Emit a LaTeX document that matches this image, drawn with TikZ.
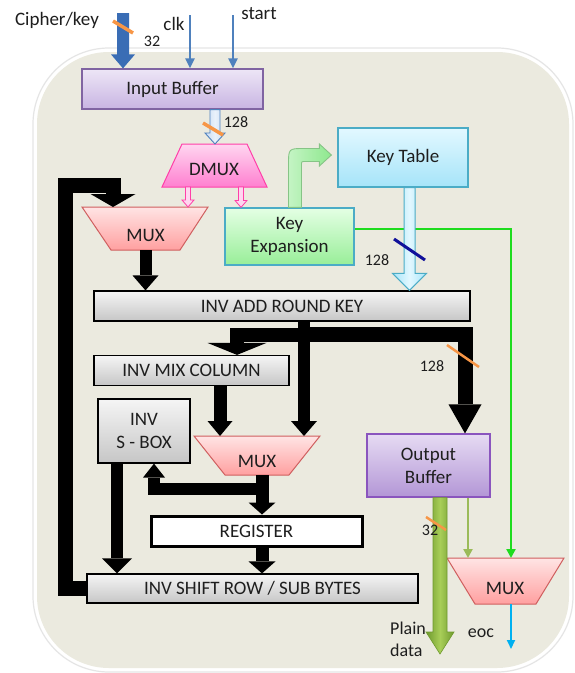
\documentclass[tikz,border=0pt]{standalone}
\usepackage{fontspec}
\setmainfont{Carlito}
\usetikzlibrary{arrows.meta,calc}
\definecolor{bgc}{HTML}{EBEADF}
\definecolor{txt}{HTML}{1E1E1E}
\definecolor{ibtop}{HTML}{EDE6F6}
\definecolor{ibbot}{HTML}{C8B4E2}
\definecolor{ibdraw}{HTML}{8064A2}
\definecolor{obtop}{HTML}{E6DBF3}
\definecolor{obbot}{HTML}{B396D6}
\definecolor{obdraw}{HTML}{8A55BE}
\definecolor{dmtop}{HTML}{FFD6F0}
\definecolor{dmbot}{HTML}{FF7FD0}
\definecolor{dmdraw}{HTML}{FF3FA8}
\definecolor{mxtop}{HTML}{FFE4E4}
\definecolor{mxbot}{HTML}{FFA0A0}
\definecolor{mxdraw}{HTML}{CF5F5F}
\definecolor{ketop}{HTML}{E4FFE4}
\definecolor{kebot}{HTML}{98EE98}
\definecolor{tealb}{HTML}{4BACC6}
\definecolor{kttop}{HTML}{E2F8FF}
\definecolor{ktbot}{HTML}{A6E4F9}
\definecolor{grtop}{HTML}{F5F5F5}
\definecolor{grbot}{HTML}{C6C6C6}
\definecolor{blueA}{HTML}{4F81BD}
\definecolor{blueB}{HTML}{3A6DB5}
\definecolor{blueL}{HTML}{C9DCF4}
\definecolor{orng}{HTML}{F79646}
\definecolor{glinec}{HTML}{1EDC1E}
\definecolor{olivec}{HTML}{9BBB59}
\definecolor{oliveD}{HTML}{6F9A2E}
\definecolor{oliveL}{HTML}{A8CE58}
\definecolor{cyanO}{HTML}{00B0F0}
\definecolor{navyc}{HTML}{10109A}
\definecolor{kearrL}{HTML}{C4F4C4}
\definecolor{kearrR}{HTML}{8EE88E}
\definecolor{kearrD}{HTML}{86C486}

% vertical block arrow: style, from, to, half shaft, half head, head length
\newcommand\vblk[6]{\path[#1] let \p1=(#2), \p2=(#3) in
  (\x1-#4,\y1) -- (\x1-#4,\y2+#6) -- (\x1-#5,\y2+#6) -- (\x1,\y2)
  -- (\x1+#5,\y2+#6) -- (\x1+#4,\y2+#6) -- (\x1+#4,\y1) -- cycle;}

\begin{document}
\begin{tikzpicture}[x=1pt,y=-1pt,
  every node/.style={text=txt, inner sep=0pt, align=center, font=\fontsize{19}{23}\selectfont},
  lbl/.style={font=\fontsize{16}{18}\selectfont},
  gbox/.style={draw=black, line width=1.2pt, top color=grtop, bottom color=grbot},
  muxshape/.style={draw=mxdraw, line width=1pt, top color=mxtop, bottom color=mxbot},
  blk/.style={draw=black, line width=#1, line join=miter},
  slash/.style={draw=orng, line width=3.5pt},
  thinblue/.style={draw=blueA, line width=2.2pt, -{Triangle[width=9pt,length=10pt]}},
]
\useasboundingbox (0,0) rectangle (575,673);
\fill[white] (0,0) rectangle (575,673);
% background panel
\draw[black!10, line width=1.2pt, rounded corners=76pt] (33,48) rectangle (573,672);
\fill[bgc, rounded corners=72pt] (37,52) rectangle (569,668);

% ---------- nodes ----------
\node[draw=ibdraw, line width=1.2pt, top color=ibtop, bottom color=ibbot,
      minimum width=181pt, minimum height=40pt] (ib) at (172.5,89) {Input Buffer};

\path[draw=dmdraw, line width=1pt, top color=dmtop, bottom color=dmbot]
  (182,144) -- (247,144) -- (267,187) -- (162,187) -- cycle;
\node (dmux) at (214,169) {DMUX};
\coordinate (dmuxin) at (215,144);
\coordinate (dmo1) at (188,187);
\coordinate (dmo2) at (241,187);

\path[muxshape] (82,207) -- (208,207) -- (180,250) -- (111,250) -- cycle;
\node (mux1) at (145.5,235) {MUX};
\coordinate (mux1t) at (145.5,207);
\coordinate (mux1in) at (113,207);
\coordinate (mux1b) at (145.5,250);

\node[draw=tealb, line width=1.2pt, top color=ketop, bottom color=kebot,
      minimum width=129pt, minimum height=57pt] (ke) at (289.5,236.5) {Key\\Expansion};
\node[draw=tealb, line width=1.2pt, top color=kttop, bottom color=ktbot,
      minimum width=130pt, minimum height=59pt] (kt) at (403,157.5) {Key Table};

\node[gbox, minimum width=376pt, minimum height=30pt] (ark) at (282,306) {INV ADD ROUND KEY};
\node[gbox, minimum width=195pt, minimum height=30pt] (mix) at (191.5,370.5) {INV MIX COLUMN};
\node[gbox, minimum width=92pt, minimum height=64pt] (sbox) at (144,431) {INV\\S - BOX};

\path[muxshape] (194,436) -- (320,436) -- (289,475) -- (225,475) -- cycle;
\node (mux2) at (257,461) {MUX};
\coordinate (mux2t) at (257,436);
\coordinate (mux2o) at (262,475);

\node[draw=black, line width=3pt, fill=white, minimum width=211pt, minimum height=30pt] (reg) at (256.5,531) {REGISTER};
\node[gbox, minimum width=331pt, minimum height=29pt] (shift) at (252.5,588.5) {INV SHIFT ROW / SUB BYTES};

\node[draw=obdraw, line width=1.2pt, top color=obtop, bottom color=obbot,
      minimum width=123pt, minimum height=63pt] (ob) at (428.5,465.5) {Output\\Buffer};

\path[muxshape] (447,558) -- (564,558) -- (536,604) -- (475,604) -- cycle;
\node (mux3) at (505,588) {MUX};
\coordinate (mux3t) at (505.5,558);
\coordinate (mux3in) at (511,558);
\coordinate (mux3o) at (511,604);
\coordinate (eocend) at (511,649);

% ---------- external inputs ----------
\node (cipl) at (57,20) {Cipher/key};
\node (clkl) at (174,24) {clk};
\node (startl) at (259,14) {start};
\coordinate (cip) at (123,13);
\coordinate (clkc) at (190,15);
\coordinate (startc) at (233,15);
\vblk{fill=blueB}{cip}{cip |- ib.north}{6pt}{12pt}{14pt}
\draw[thinblue] (clkc) -- (clkc |- ib.north);
\draw[thinblue] (startc) -- (startc |- ib.north);
\draw[slash] (113,21) -- (133,33);
\node[lbl] (l32a) at (152,41) {32};

% input buffer -> DMUX
\vblk{draw=blueA, line width=0.9pt, left color=blueL, right color=blueL, middle color=white!60!blueL}{$(ib.south)+(42.5,0)$}{dmuxin}{5pt}{10pt}{11pt}
\draw[slash] (203,123) -- (223,135);
\node[lbl] (l128a) at (236,122) {128};

% DMUX outputs
\vblk{draw=dmdraw, line width=0.8pt, fill=dmtop}{dmo1}{mux1t}{2.5pt}{6pt}{7pt}
\vblk{draw=dmdraw, line width=0.8pt, fill=dmtop}{dmo2}{ke.north}{2.5pt}{6pt}{7pt}

% key expansion -> key table (bent arrow)
\path[draw=kearrD, line width=0.9pt, left color=kearrL, right color=kearrR]
  let \p1=($(ke.north)+(5.5,0)$), \p2=(kt.west), \n1={\y2+2.5pt} in
  (\x1-6.5pt,\y1) -- (\x1-6.5pt,\n1-10pt)
  .. controls (\x1-6.5pt,\n1+6.5pt) .. (\x1+9pt,\n1+6.5pt)
  -- (\x2-18pt,\n1+6.5pt) -- (\x2-18pt,\n1+11pt) -- (\x2-6pt,\n1)
  -- (\x2-18pt,\n1-11pt) -- (\x2-18pt,\n1-6.5pt) -- (\x1+10pt,\n1-6.5pt)
  .. controls (\x1+6.5pt,\n1-6.5pt) .. (\x1+6.5pt,\n1-10pt)
  -- (\x1+6.5pt,\y1) -- cycle;

% key expansion -> MUX3 (green line)
\draw[glinec, line width=2.5pt, -{Triangle[width=9pt,length=9pt]}]
  ($(ke.east)+(0,-7.5)$) -| (mux3in);

% key table -> add round key
\vblk{draw=tealb, line width=1pt, left color=ktbot, right color=ktbot, middle color=kttop}{$(kt.south)+(6.5,0)$}{ark.north}{5.5pt}{17pt}{17pt}
\draw[navyc, line width=3pt] (394,239) -- (425,260);
\node[lbl] (l128b) at (377,260) {128};

% ---------- black data paths ----------
\coordinate (loopc) at (65,185);
\draw[blk=15pt, -{Triangle[width=45pt,length=13pt,line width=0pt]}] (shift.west) -| (loopc) -| (mux1in);
\draw[blk=12pt, -{Triangle[width=26pt,length=15pt,line width=0pt]}] (mux1b) -- (mux1b |- ark.north);

\coordinate (arko) at ($(ark.south)+(22,0)$);
\coordinate (split) at ($(arko)+(0,13)$);
\coordinate (mixin) at ($(mix.north)+(45.5,0)$);
\coordinate (obin) at ($(ob.north)+(36.5,0)$);
\draw[blk=12pt, -{Triangle[width=26pt,length=15pt,line width=0pt]}] (arko) -- (arko |- mux2t);
\draw[blk=14pt, -{Triangle[width=59pt,length=12pt,line width=0pt]}] (split) -| (mixin);
\draw[blk=15pt, -{Triangle[width=33pt,length=29pt,line width=0pt]}] (split) -| (obin);
\draw[orng, line width=2.5pt] (447,345) -- (479,367);
\node[lbl] (l128c) at (432,366) {128};

\coordinate (mixo) at ($(mix.south)+(28.5,0)$);
\draw[blk=13pt, -{Triangle[width=25pt,length=15pt,line width=0pt]}] (mixo) -- (mixo |- mux2t);

\draw[blk=13pt, -{Triangle[width=27pt,length=12pt,line width=0pt]}] (mux2o) -- (mux2o |- reg.north);
\coordinate (br) at ($(mux2o)+(0,14)$);
\coordinate (sboxin) at ($(sbox.south)+(10,0)$);
\draw[blk=12pt, -{Triangle[width=22pt,length=14pt,line width=0pt]}] (br) -| (sboxin);
\coordinate (sboxo) at ($(sbox.south)+(-27,0)$);
\draw[blk=12pt, -{Triangle[width=30pt,length=15pt,line width=0pt]}] (sboxo) -- (sboxo |- shift.north);
\draw[blk=13pt, -{Triangle[width=27pt,length=12pt,line width=0pt]}] (mux2o |- reg.south) -- (mux2o |- shift.north);

% ---------- outputs ----------
\coordinate (obo1) at ($(ob.south)+(11.5,0)$);
\coordinate (plainend) at (440,654);
\vblk{draw=oliveD, line width=0.6pt, left color=oliveD, right color=oliveD, middle color=oliveL}{obo1}{plainend}{7pt}{14pt}{22pt}
\coordinate (obo2) at ($(ob.south)+(39.5,0)$);
\draw[olivec, line width=2.5pt, -{Triangle[width=9pt,length=9pt]}] (obo2) -- (obo2 |- mux3t);
\draw[cyanO, line width=2pt, -{Triangle[width=8pt,length=9pt]}] (mux3o) -- (eocend);
\draw[orng, line width=2.5pt] (426,517) -- (446,530);
\node[lbl] (l32b) at (430,530) {32};

\node[anchor=west, align=left, font=\fontsize{18}{22}\selectfont] (plainl) at (390,639) {Plain\\data};
\node[font=\fontsize{18}{22}\selectfont] (eocl) at (481,633) {eoc};
\end{tikzpicture}
\end{document}
